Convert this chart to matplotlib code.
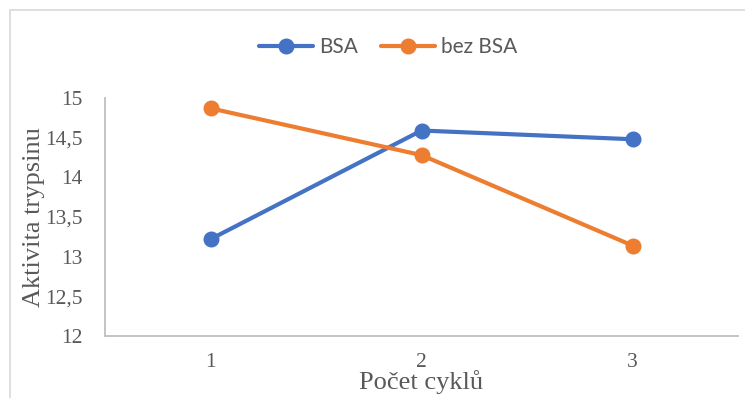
import matplotlib
matplotlib.use("Agg")
import matplotlib.pyplot as plt
from matplotlib.patches import Rectangle
from matplotlib.ticker import FuncFormatter

cycles = ["1", "2", "3"]
bsa = [13.22, 14.59, 14.48]
bez_bsa = [14.87, 14.28, 13.14]
series_names = ["BSA", "bez BSA"]
y_ticks = [12, 12.5, 13, 13.5, 14, 14.5, 15]

W, H = 745, 398
fig = plt.figure(figsize=(W / 100, H / 100), dpi=100)

# outer chart border (light gray), partially cropped
fig.patches.append(Rectangle((10 / W, -0.1), 1.2, (H - 10) / H + 0.1,
                             transform=fig.transFigure, fill=False,
                             edgecolor="#d9d9d9", linewidth=1.2))

ax = fig.add_axes([105 / W, 1 - 336 / H, (738 - 105) / W, (336 - 98) / H])
x = [1, 2, 3]
ax.plot(x, bsa, color="#4472C4", lw=3, marker="o", ms=10.5, label=series_names[0],
        solid_capstyle="round")
ax.plot(x, bez_bsa, color="#ED7D31", lw=3, marker="o", ms=10.5, label=series_names[1],
        solid_capstyle="round")

ax.set_xlim(0.5, 3.5)
ax.set_ylim(12, 15)
ax.set_xticks(x)
ax.set_xticklabels(cycles)
ax.set_yticks(y_ticks)
ax.yaxis.set_major_formatter(FuncFormatter(lambda v, p: (f"{v:g}").replace(".", ",")))

for s in ["top", "right"]:
    ax.spines[s].set_visible(False)
for s in ["left", "bottom"]:
    ax.spines[s].set_color("#bfbfbf")
    ax.spines[s].set_linewidth(1.3)

serif = ["Liberation Serif", "DejaVu Serif"]
ax.tick_params(axis="both", length=0, colors="#595959")
ax.tick_params(axis="y", pad=16)
ax.tick_params(axis="x", pad=12)
for lab in ax.get_xticklabels() + ax.get_yticklabels():
    lab.set_family(serif)
    lab.set_fontsize(15.5)
    lab.set_color("#595959")

ax.set_ylabel("Aktivita trypsinu", family=serif, fontsize=19, color="#595959", labelpad=0)
ax.set_xlabel("Počet cyklů", family=serif, fontsize=19, color="#595959", labelpad=-1)

leg = fig.legend(loc="center", bbox_to_anchor=(388 / W, 1 - 47 / H), ncol=2,
                 frameon=False, prop={"family": ["Lato", "DejaVu Sans"], "size": 15},
                 handlelength=2.6, handletextpad=0.3, columnspacing=1.1, markerscale=1.0)
for t in leg.get_texts():
    t.set_color("#595959")

fig.savefig("out.png", dpi=100)
